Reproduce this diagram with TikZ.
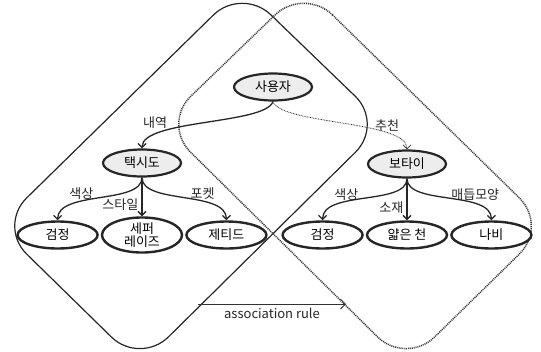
\documentclass[tikz,border=0pt]{standalone}
\usepackage{fontspec}
\setmainfont{Noto Sans CJK KR}
\usetikzlibrary{shapes.geometric, arrows.meta, positioning}

\begin{document}
\begin{tikzpicture}[x=1pt, y=-1pt,
        node distance=2pt and 2pt,
        topbox/.style={ellipse, draw=black!85, line width=2.2pt, fill=black!7,
                    minimum width=78pt, minimum height=27pt, inner sep=0pt,
                    font=\fontsize{13}{14}\selectfont},
        leafbox/.style={ellipse, draw=black!85, line width=2.4pt, fill=white,
                    minimum width=80pt, minimum height=27pt, inner sep=0pt,
                    font=\fontsize{13}{13}\selectfont, align=center},
        region/.style={draw=black!85, line width=1.2pt, rounded corners=40pt},
        arr/.style={-{Straight Barb[length=4pt, width=8pt]}, line width=1.3pt, black!85},
        recarr/.style={-{Straight Barb[length=4pt, width=8pt]}, line width=0.8pt,
                    black!80, dash pattern=on 0.8pt off 0.8pt},
        rulearr/.style={-{Straight Barb[length=5pt, width=10pt]}, line width=0.8pt, black!80},
        lbl/.style={font=\fontsize{13}{14}\selectfont, inner sep=1pt, text=black!85}
    ]
    \useasboundingbox (0,0) rectangle (541,351);

    % Regions
    \draw[region] (242,-13) -- (384,124) -- (140,365) -- (-2,226) -- cycle;
    \draw[region, line width=1.5pt, black!80, dash pattern=on 1pt off 0.9pt]
        (304,-13) -- (548,226) -- (406,365) -- (162,124) -- cycle;

    % Row 1
    \node[topbox] (user) at (273,87) {사용자};

    % Row 2
    \node[topbox] (tux) at (142,163) {택시도};
    \node[topbox] (bow) at (407,164) {보타이};

    % Row 3
    \node[leafbox] (sep) at (142,235) {세퍼\\레이즈};
    \node[leafbox, left=of sep]  (blkL) {검정};
    \node[leafbox, right=of sep] (jet)  {제티드};
    \node[leafbox] (thin) at (407,235) {얇은 천};
    \node[leafbox, left=of thin]  (blkR) {검정};
    \node[leafbox, right=of thin] (bfly) {나비};

    % Connections
    \draw[arr] (user.south) .. controls +(-8,23) and +(0,-29) .. (tux.north)
        node[lbl, pos=0.7, anchor=south east] {내역};
    \draw[recarr] (user.south) .. controls +(8,23) and +(0,-29) .. (bow.north)
        node[lbl, pos=0.75, anchor=south] {추천};

    \draw[arr] (tux.south) .. controls +(0,27) and +(0,-30) .. (blkL.north)
        node[lbl, pos=0.65, anchor=south] {색상};
    \draw[arr] (tux.south) -- (sep.north) node[lbl, pos=0.7, left=2pt] {스타일};
    \draw[arr] (tux.south) .. controls +(0,27) and +(0,-30) .. (jet.north)
        node[lbl, pos=0.65, anchor=south] {포켓};

    \draw[arr] (bow.south) .. controls +(0,27) and +(0,-30) .. (blkR.north)
        node[lbl, pos=0.65, anchor=south] {색상};
    \draw[arr] (bow.south) -- (thin.north) node[lbl, pos=0.7, left=2pt] {소재};
    \draw[arr] (bow.south) .. controls +(0,27) and +(0,-30) .. (bfly.north)
        node[lbl, pos=0.72, above=2pt] {매듭모양};

    % Association rule
    \coordinate (ruleA) at (198,304);
    \coordinate (ruleB) at (346,304);
    \draw[rulearr] (ruleA) -- (ruleB) node[lbl, midway, below=3pt] {association rule};
\end{tikzpicture}
\end{document}
